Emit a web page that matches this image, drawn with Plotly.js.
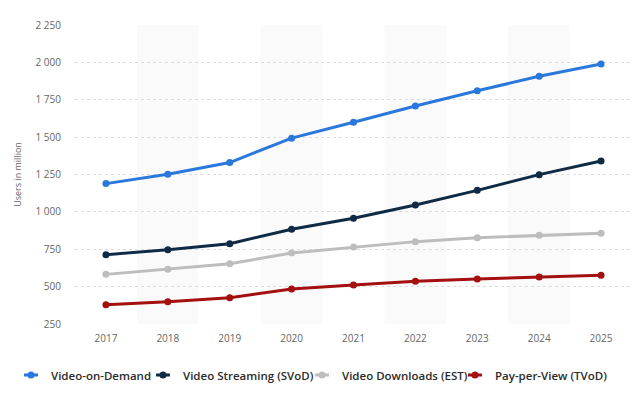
<!DOCTYPE html>
<html>
<head>
<meta charset="utf-8">
<script src="https://cdn.plot.ly/plotly-3.0.1.min.js"></script>
<style>html,body{margin:0;padding:0;background:#fff}#chart{width:643px;height:399px}</style>
</head>
<body>
<div id="chart"></div>
<script>
const years = ["2017","2018","2019","2020","2021","2022","2023","2024","2025"];
const videoOnDemand = [1189, 1252, 1330, 1493, 1600, 1708, 1810, 1907, 1989];
const videoStreaming = [714, 747, 787, 884, 957, 1046, 1144, 1249, 1340];
const videoDownloads = [582, 616, 653, 725, 765, 801, 827, 843, 857];
const payPerView = [379, 399, 426, 484, 511, 536, 551, 564, 576];
const seriesNames = ["Video-on-Demand", "Video Streaming (SVoD)", "Video Downloads (EST)", "Pay-per-View (TVoD)"];
const seriesColors = ["#2a78db", "#0f2a45", "#bdbdbd", "#a3100f"];
const yTicks = [250, 500, 750, 1000, 1250, 1500, 1750, 2000, 2250];

// legend text start positions (px in container)
const legendTextStart = [51, 183, 342, 495];
const legendIds = ["legend", "legend2", "legend3", "legend4"];
const W = 643, H = 399;
const indent = -7;

const allSeries = [videoOnDemand, videoStreaming, videoDownloads, payPerView];
const traces = allSeries.map((vals, i) => ({
  type: "scatter",
  mode: "lines+markers",
  x: years,
  y: vals,
  name: seriesNames[i],
  showlegend: false,
  line: {color: seriesColors[i], width: 3},
  marker: {color: seriesColors[i], size: 7},
  hoverinfo: "skip"
}));
// legend-only entries with a short line icon
const legendTraces = seriesNames.map((nm, i) => ({
  type: "scatter",
  mode: "lines+markers",
  x: [null], y: [null],
  name: nm,
  legend: legendIds[i],
  showlegend: true,
  line: {color: seriesColors[i], width: 3, dash: "0px,8px,14px,100px"},
  marker: {color: seriesColors[i], size: 7},
  hoverinfo: "skip"
}));

const shapes = [];
years.forEach((y, i) => {
  if (i % 2 === 1) {
    shapes.push({type: "rect", xref: "x", yref: "paper", x0: i - 0.5, x1: i + 0.5, y0: 0, y1: 1,
      fillcolor: "#fafafa", line: {width: 0}, layer: "below"});
  }
});

const layout = {
  width: W, height: H,
  margin: {l: 75, r: 11, t: 25, b: 75},
  paper_bgcolor: "#fff", plot_bgcolor: "#fff",
  font: {family: "Open Sans, sans-serif", color: "#666"},
  separators: ". ",
  showlegend: true,
  shapes: shapes,
  xaxis: {
    type: "category",
    range: [-0.5, years.length - 0.5],
    showgrid: false, zeroline: false, showline: false,
    ticks: "", tickfont: {size: 10, color: "#666"},
    ticklabelstandoff: 7,
    automargin: false
  },
  yaxis: {
    range: [250, 2250],
    tickvals: yTicks,
    tickformat: ",d",
    showgrid: true, gridcolor: "#dcdcdc", griddash: "dot", gridwidth: 1,
    zeroline: false, showline: false, ticks: "",
    ticklabelstandoff: 13,
    tickfont: {size: 10, color: "#666"},
    title: {text: "Users in million", font: {size: 9, color: "#666"}, standoff: 12},
    automargin: false
  }
};

legendIds.forEach((id, i) => {
  layout[id] = {
    orientation: "h",
    xref: "container", yref: "container",
    x: (legendTextStart[i] - 40 - indent) / W, xanchor: "left",
    y: 1 - 375 / H, yanchor: "middle",
    font: {size: 11.5, color: "#2b2b2b", weight: 600},
    itemwidth: 30,
    indentation: indent,
    bgcolor: "rgba(0,0,0,0)"
  };
});

Plotly.newPlot("chart", traces.concat(legendTraces), layout, {displayModeBar: false, staticPlot: true});
</script>
</body>
</html>
